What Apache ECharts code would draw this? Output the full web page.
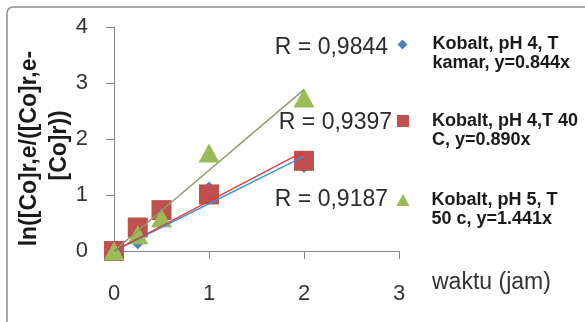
<!DOCTYPE html>
<html><head><meta charset="utf-8">
<script src="https://cdn.jsdelivr.net/npm/echarts@6/dist/echarts.min.js"></script>
<style>html,body{margin:0;padding:0;background:#fff}#c{width:585px;height:322px}</style>
</head><body><div id="c"></div>
<script>
const xHours = [0, 0.25, 0.5, 1, 2];
const kamarPH4 = [0, 0.12, 0.6, 1.15, 1.48];
const t40PH4 = [0, 0.42, 0.73, 1.01, 1.61];
const t50PH5 = [0, 0.29, 0.59, 1.75, 2.73];
const seriesNames = ['Kobalt, pH 4, T\nkamar, y=0.844x', 'Kobalt, pH 4,T 40\nC, y=0.890x', 'Kobalt, pH 5, T\n50 c, y=1.441x'];
const slopes = [0.844, 0.890, 1.441];
const rLabels = ['R = 0,9844', 'R = 0,9397', 'R = 0,9187'];
const trendX = [0, 2];
const yTitle = 'ln([Co]r,e/([Co]r,e-   \n[Co]r))  ';
const xTitle = 'waktu (jam)';

const FONT = "'Liberation Sans', Arial, sans-serif";
const markerColors = ['#4F81BD', '#C0504D', '#9BBB59'];
const lineColors = ['#3E8FDB', '#E0393B', '#8E9B6E'];
const symbols = ['diamond', 'rect', 'triangle'];
const symbolSizes = [10, 20, [21, 19]];
const allData = [kamarPH4, t40PH4, t50PH5];

const pts = arr => xHours.map((x, i) => [x, arr[i]]);

const series = [];
allData.forEach((d, k) => {
  series.push({
    type: 'scatter', name: seriesNames[k], data: pts(d),
    symbol: symbols[k], symbolSize: symbolSizes[k],
    itemStyle: {color: markerColors[k], opacity: 1}, z: 2 + k, silent: true
  });
});
slopes.forEach((s, k) => {
  series.push({
    type: 'line', name: 'trend' + k, data: trendX.map(x => [x, s * x]),
    showSymbol: false, symbol: 'none', silent: true, z: 10,
    lineStyle: {color: lineColors[k], width: 1.4}
  });
});

const legendTops = [16, 92.5, 171.5];
const legendLefts = [397.5, 397, 396.5];
const legendSizes = [[10, 10], [12, 12], [13, 12]];
const legends = seriesNames.map((n, k) => ({
  data: [{name: n, icon: symbols[k]}],
  left: legendLefts[k], top: legendTops[k], padding: 0, orient: 'vertical',
  itemWidth: legendSizes[k][0], itemHeight: legendSizes[k][1], selectedMode: false,
  itemGap: 0,
  formatter: name => '\n' + name,
  textStyle: {fontFamily: FONT, fontWeight: 'bold', fontSize: 18, lineHeight: 19,
    color: '#1a1a1a', width: 160, padding: [0, 0, 0, 36 - 16 - legendSizes[k][0] + 10]}
}));

const rY = [48, 123, 200];
const rX = [388, 392, 388];
const graphics = [
  {type: 'rect', shape: {x: 7, y: 7, width: 640, height: 420, r: 6}, silent: true,
   style: {fill: 'none', stroke: '#8c8c8c', lineWidth: 1.5}, z: -1}
].concat(rLabels.map((t, k) => ({
  type: 'text', x: rX[k], y: rY[k], silent: true,
  style: {text: t, align: 'right', verticalAlign: 'middle', fontSize: 23, fontFamily: FONT, fill: '#2b2b2b'}
})));

const chart = echarts.init(document.getElementById('c'), null, {renderer: 'canvas'});
chart.setOption({
  animation: false,
  grid: {left: 114, right: 186, top: 27, bottom: 71, containLabel: false, outerBoundsMode: 'none'},
  legend: legends,
  xAxis: {
    type: 'value', min: 0, max: 3, interval: 1,
    axisLine: {show: true, lineStyle: {color: '#868686', width: 1}},
    axisTick: {show: true, length: 8, lineStyle: {color: '#868686'}},
    splitLine: {show: false},
    axisLabel: {fontSize: 22, fontFamily: FONT, color: '#333', margin: 32},
    name: '\n\n' + xTitle, nameLocation: 'end', nameGap: 33,
    nameTextStyle: {fontSize: 23, fontFamily: FONT, color: '#333', align: 'left', verticalAlign: 'middle', lineHeight: 32}
  },
  yAxis: {
    type: 'value', min: 0, max: 4, interval: 1,
    axisLine: {show: true, lineStyle: {color: '#868686', width: 1}},
    axisTick: {show: true, length: 8, lineStyle: {color: '#868686'}},
    splitLine: {show: false},
    axisLabel: {fontSize: 22, fontFamily: FONT, color: '#333', margin: 26},
    name: yTitle, nameLocation: 'middle', nameRotate: 90, nameGap: 69.5, nameMoveOverlap: false,
    nameTextStyle: {fontSize: 23, fontWeight: 'bold', fontFamily: FONT, color: '#1a1a1a', lineHeight: 30, align: 'center', verticalAlign: 'middle'}
  },
  series: series,
  graphic: graphics
});
</script></body></html>
